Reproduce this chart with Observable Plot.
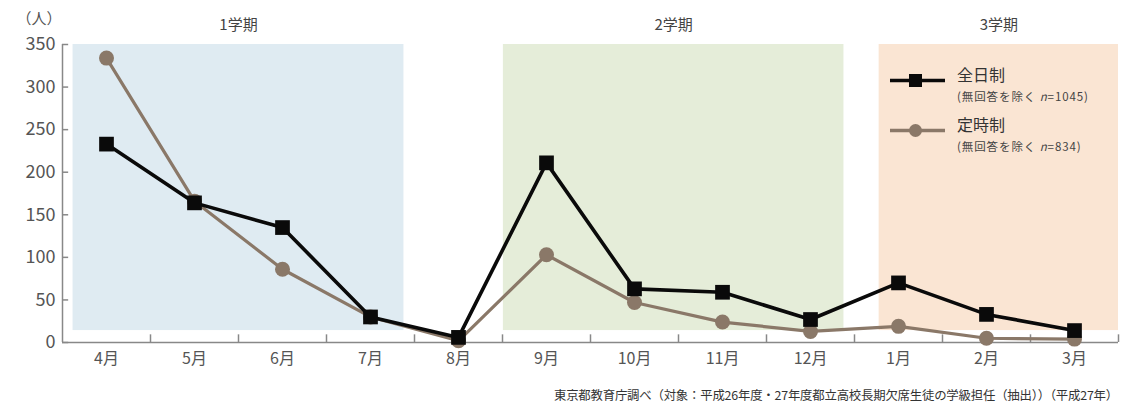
<!DOCTYPE html>
<html><head><meta charset="utf-8">
<script src="https://cdn.jsdelivr.net/npm/d3@7"></script>
<script src="https://cdn.jsdelivr.net/npm/@observablehq/plot@0.6"></script>
<style>
body{margin:0;background:#fff;font-family:"Noto Sans CJK JP","Noto Sans",sans-serif;}
#wrap{position:relative;width:1124px;height:405px;}
#legend{position:absolute;left:888px;top:66px;color:#333;}
.lg{position:relative;height:50px;width:230px;}
.lg svg{position:absolute;left:0;top:6px;}
.lg .t{position:absolute;left:69px;top:-3px;font-size:16px;line-height:22px;white-space:nowrap;}
.lg .s{position:absolute;left:69px;top:24px;font-size:11.5px;line-height:13px;color:#444;white-space:nowrap;letter-spacing:0.9px;}
#caption{position:absolute;right:6px;top:386px;font-size:12.4px;color:#333;white-space:nowrap;letter-spacing:-0.2px;}
</style></head>
<body><div id="wrap"><div id="chart"></div>
<div id="legend"></div>
<div id="caption"></div></div>
<script>
const months = ["4月","5月","6月","7月","8月","9月","10月","11月","12月","1月","2月","3月"];
const fullTime = [233,164,135,30,6,211,63,59,27,70,33,14];
const partTime = [334,166,86,30,2,103,47,24,13,19,5,4];
const seriesNames = ["全日制","定時制"];
const seriesNotes = ["(無回答を除く <i>n</i>=1045)","(無回答を除く <i>n</i>=834)"];
const terms = ["1学期","2学期","3学期"];
const termStart = [-0.38, 4.51, 8.78];
const termEnd = [3.38, 8.38, 11.5];
const termColors = ["#dfebf2","#e5edd9","#fae5d3"];
const yTicks = [0,50,100,150,200,250,300,350];
const caption = "東京都教育庁調べ（対象：平成26年度・27年度都立高校長期欠席生徒の学級担任（抽出））（平成27年）";

const blackColor = "#0a0a0a";
const brownColor = "#8a7868";

const idx = months.map((_, i) => i);
const fullData = idx.map(i => ({i, v: fullTime[i]}));
const partData = idx.map(i => ({i, v: partTime[i]}));
const termData = terms.map((t, k) => ({t, x1: termStart[k], x2: termEnd[k], c: termColors[k]}));
const boundaries = idx.map(i => i + 0.5);

const chart = Plot.plot({
  width: 1124, height: 380,
  marginLeft: 62, marginRight: 6, marginTop: 44, marginBottom: 38,
  style: {fontFamily: '"Noto Sans CJK JP","Noto Sans",sans-serif', color: "#555", background: "transparent"},
  x: {type: "linear", domain: [-0.5, 11.5]},
  y: {domain: [0, 350]},
  marks: [
    Plot.rectY(termData, {x1: "x1", x2: "x2", y1: 14, y2: 350, fill: "c"}),
    Plot.text(termData, {x: d => (d.x1 + d.x2) / 2, y: 350, text: "t", dy: -19, fontSize: 15, fill: "#444"}),
    Plot.ruleY([0], {stroke: "#888", strokeWidth: 1.5}),
    Plot.ruleX([-0.5], {y1: 0, y2: 350, stroke: "#888", strokeWidth: 1.5}),
    Plot.ruleY(yTicks, {x1: -0.5, x2: -0.43, stroke: "#888", strokeWidth: 1.5}),
    Plot.ruleX(boundaries, {y1: 0, y2: 9, stroke: "#888", strokeWidth: 1.5}),
    Plot.axisY({ticks: yTicks, tickSize: 0, tickPadding: 7, fontSize: 18, label: null, fill: "#555"}),
    Plot.axisX({ticks: idx, tickSize: 0, tickPadding: 10, tickFormat: i => months[i], fontSize: 16, label: null, fill: "#555"}),
    Plot.text(["（人）"], {frameAnchor: "top-left", dx: -46, dy: -31, fontSize: 15, fill: "#555"}),
    Plot.line(partData, {x: "i", y: "v", stroke: brownColor, strokeWidth: 3.2}),
    Plot.dot(partData, {x: "i", y: "v", r: 7.5, fill: brownColor, stroke: "none"}),
    Plot.line(fullData, {x: "i", y: "v", stroke: blackColor, strokeWidth: 3.6}),
    Plot.dot(fullData, {x: "i", y: "v", r: 8.3, symbol: "square", fill: blackColor, stroke: "none"})
  ]
});
document.getElementById("chart").appendChild(chart);

const lg = document.getElementById("legend");
const colors = [blackColor, brownColor];
seriesNames.forEach((name, k) => {
  const d = document.createElement("div");
  d.className = "lg";
  const sym = k === 0
    ? `<rect x="21" y="2" width="13" height="13" fill="${colors[k]}"/>`
    : `<circle cx="27.5" cy="8.5" r="6.5" fill="${colors[k]}"/>`;
  d.innerHTML = `<svg width="60" height="18"><line x1="2" x2="57" y1="8.5" y2="8.5" stroke="${colors[k]}" stroke-width="3.4"/>${sym}</svg>` +
    `<div class="t">${name}</div><div class="s">${seriesNotes[k]}</div>`;
  lg.appendChild(d);
});
document.getElementById("caption").textContent = caption;
</script></body></html>
